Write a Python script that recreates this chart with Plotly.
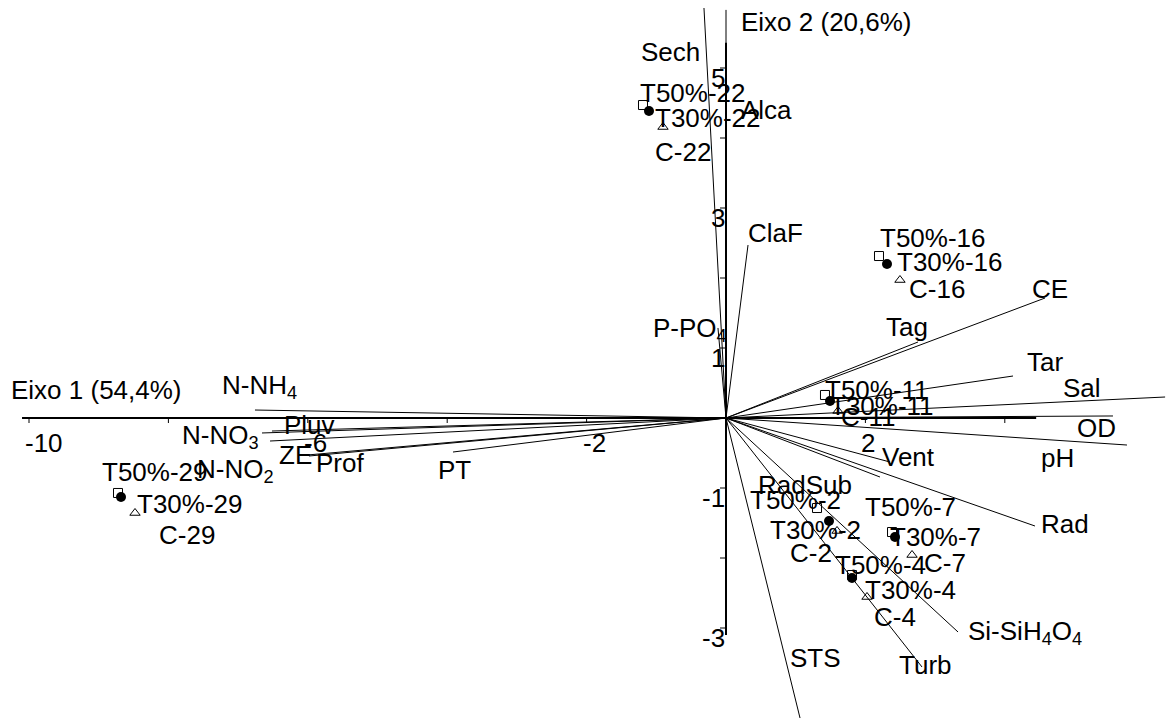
import plotly.graph_objects as go

# ---- environmental variables (biplot arrows, PCA scores) ----
var_names = ["Sech", "Alca", "ClaF", "P-PO<sub>4</sub>", "CE", "Tag", "Tar", "Sal",
             "OD", "pH", "Vent", "RadSub", "Rad", "Si-SiH<sub>4</sub>O<sub>4</sub>",
             "Turb", "STS", "N-NH<sub>4</sub>", "N-NO<sub>3</sub>", "Pluv",
             "N-NO<sub>2</sub>", "ZE", "Prof", "PT"]
var_x = [-0.316, 0.0, 0.316, -0.115, 4.577, 2.755, 4.118, 6.30,
         5.552, 5.753, 2.353, 2.209, 4.433, 3.329,
         2.812, 1.062, -6.758, -6.657, -6.514,
         -6.542, -6.011, -5.983, -3.917]
var_y = [5.857, 5.83, 2.471, 1.286, 1.714, 1.086, 0.600, 0.300,
         0.029, -0.386, -0.629, -0.843, -1.543, -3.057,
         -3.557, -4.286, 0.114, -0.214, -0.186,
         -0.329, -0.529, -0.543, -0.486]

# ---- sampling sites and treatments ----
sites = ["22", "16", "11", "29", "2", "7", "4"]
t50_x = [-1.191, 2.195, 1.420, -8.723, 1.306, 2.382, 1.808]
t50_y = [4.471, 2.314, 0.329, -1.071, -1.286, -1.629, -2.243]
t30_x = [-1.105, 2.310, 1.492, -8.680, 1.478, 2.425, 1.808]
t30_y = [4.386, 2.200, 0.243, -1.129, -1.471, -1.700, -2.286]
c_x = [-0.904, 2.496, 1.607, -8.479, 1.593, 2.669, 2.023]
c_y = [4.157, 1.971, 0.100, -1.357, -1.614, -1.957, -2.557]

# axis ticks and labelled values
x_ticks = [-10, -8, -6, -4, -2, 0, 2, 4]
x_tick_labels = [-10, -6, -2, 2]
y_ticks = [-3, -2, -1, 1, 2, 3, 4, 5]
y_tick_labels = [-3, -1, 1, 3, 5]
axis1_title = "Eixo 1 (54,4%)"
axis2_title = "Eixo 2 (20,6%)"

# label placement (pixel offsets from the arrow tip / marker)
var_off = {
    "Sech": (-33, 44), "Alca": (40, 100), "ClaF": (27, -12), "P-PO<sub>4</sub>": (-28, 2),
    "CE": (5, -9), "Tag": (-11, -15), "Tar": (32, -14), "Sal": (-83, -9),
    "OD": (-16, 12), "pH": (-69, 13), "Vent": (18, -5), "RadSub": (-75, 8),
    "Rad": (30, -2), "Si-SiH<sub>4</sub>O<sub>4</sub>": (67, 1), "Turb": (3, -2),
    "STS": (15, -60), "N-NH<sub>4</sub>": (5, -24), "N-NO<sub>3</sub>": (-42, 4),
    "Pluv": (38, -6), "N-NO<sub>2</sub>": (-35, 29), "ZE": (-12, 0), "Prof": (31, 7),
    "PT": (2, 18),
}
t50_off = [(50, -12), (54, -18), (52, -5), (37, -21), (-22, -8), (18, -25), (28, -10)]
t30_off = [(59, 7), (63, -2), (52, 5), (69, 7), (-14, 9), (40, 0), (58, 12)]
c_off = [(20, 25), (37, 9), (30, 6), (52, 22), (-26, 22), (33, 8), (28, 20)]

FONT = dict(family="Liberation Sans, Arial, sans-serif", size=26, color="black")
W, H = 1167, 722
X0, SX = 726, 69.7   # origin pixel and pixels per unit (x)
Y0, SY = 418, 70.0   # origin pixel and pixels per unit (y)
x_range = [(0 - X0) / SX, (W - X0) / SX]
y_range = [(Y0 - H) / SY, Y0 / SY]

fig = go.Figure()

# arrows from the origin
ax, ay = [], []
for vx, vy in zip(var_x, var_y):
    ax += [0, vx, None]
    ay += [0, vy, None]
fig.add_trace(go.Scatter(x=ax, y=ay, mode="lines",
                         line=dict(color="black", width=1), hoverinfo="skip"))

# site markers
fig.add_trace(go.Scatter(x=t50_x, y=t50_y, mode="markers",
                         marker=dict(symbol="square-open", size=9, color="black",
                                     line=dict(width=1))))
fig.add_trace(go.Scatter(x=c_x, y=c_y, mode="markers",
                         marker=dict(symbol="triangle-up-open", size=9, color="black",
                                     line=dict(width=1))))
fig.add_trace(go.Scatter(x=t30_x, y=t30_y, mode="markers",
                         marker=dict(symbol="circle", size=10, color="black")))

shapes = []
# main axes
shapes.append(dict(type="line", x0=-10.1, x1=4.45, y0=0, y1=0,
                   line=dict(color="black", width=2)))
shapes.append(dict(type="line", x0=0, x1=0, y0=-3.1, y1=5.36,
                   line=dict(color="black", width=2)))
for t in x_ticks:
    if t != 0:
        shapes.append(dict(type="line", x0=t, x1=t, y0=0, y1=-5 / SY,
                           line=dict(color="black", width=1)))
for t in y_ticks:
    shapes.append(dict(type="line", x0=0, x1=-6 / SX, y0=t, y1=t,
                       line=dict(color="black", width=1)))

ann = []
for t in x_tick_labels:
    ann.append(dict(x=t, y=0, text=str(t), showarrow=False, xanchor="left",
                    yanchor="middle", xshift=-6, yshift=-25, font=FONT))
for t in y_tick_labels:
    ann.append(dict(x=0, y=t, text=str(t), showarrow=False, xanchor="right",
                    yanchor="middle", xshift=1, yshift=-10, font=FONT))

for n, vx, vy in zip(var_names, var_x, var_y):
    dx, dy = var_off[n]
    ann.append(dict(x=vx, y=vy, text=n, showarrow=False, xanchor="center",
                    yanchor="middle", xshift=dx, yshift=-dy, font=FONT))

for prefix, xs, ys, offs in (("T50%-", t50_x, t50_y, t50_off),
                              ("T30%-", t30_x, t30_y, t30_off),
                              ("C-", c_x, c_y, c_off)):
    for s, px, py, (dx, dy) in zip(sites, xs, ys, offs):
        ann.append(dict(x=px, y=py, text=prefix + s, showarrow=False,
                        xanchor="center", yanchor="middle",
                        xshift=dx, yshift=-dy, font=FONT))

ann.append(dict(x=96 / W, y=1 - 390 / H, xref="paper", yref="paper",
                text=axis1_title, showarrow=False, xanchor="center",
                yanchor="middle", font=FONT))
ann.append(dict(x=826 / W, y=1 - 22 / H, xref="paper", yref="paper",
                text=axis2_title, showarrow=False, xanchor="center",
                yanchor="middle", font=FONT))

fig.update_layout(
    width=W, height=H, margin=dict(l=0, r=0, t=0, b=0),
    paper_bgcolor="white", plot_bgcolor="white", showlegend=False,
    xaxis=dict(range=x_range, visible=False, fixedrange=True),
    yaxis=dict(range=y_range, visible=False, fixedrange=True),
    shapes=shapes, annotations=ann,
)

fig.write_html("out.html")
